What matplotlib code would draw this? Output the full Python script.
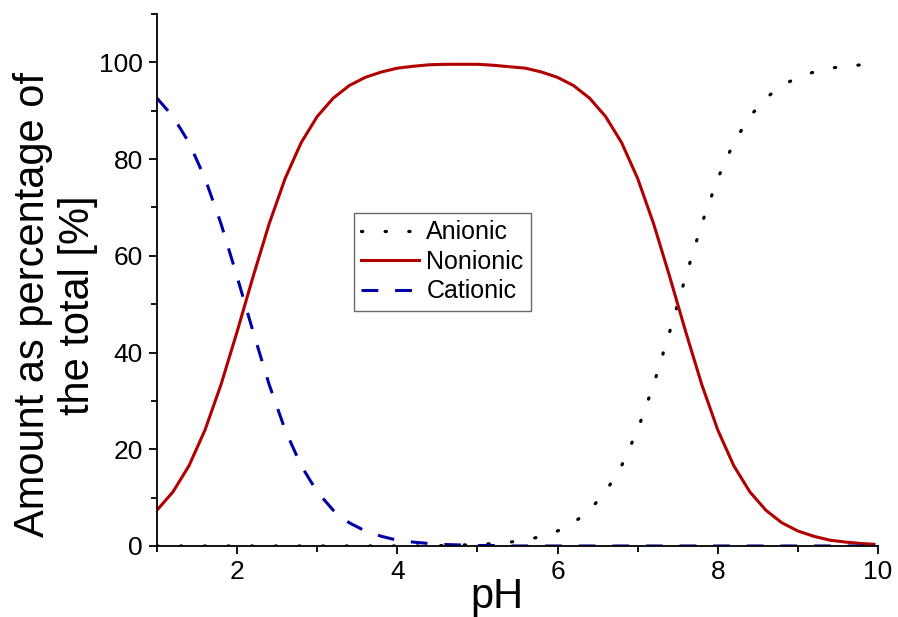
import matplotlib
matplotlib.use("Agg")
import matplotlib.pyplot as plt
from matplotlib.ticker import MultipleLocator

plt.rcParams['font.family'] = ['Liberation Sans', 'DejaVu Sans']

# species distribution, % of total vs pH
ph = [1.0, 1.2, 1.4, 1.6, 1.8, 2.0, 2.2, 2.4, 2.6, 2.8, 3.0, 3.2, 3.4, 3.6, 3.8,
      4.0, 4.2, 4.4, 4.6, 4.8, 5.0, 5.2, 5.4, 5.6, 5.8, 6.0, 6.2, 6.4, 6.6, 6.8,
      7.0, 7.2, 7.4, 7.6, 7.8, 8.0, 8.2, 8.4, 8.6, 8.8, 9.0, 9.2, 9.4, 9.6, 9.8, 9.95]
cationic = [92.6, 88.8, 83.4, 76.0, 66.6, 55.7, 44.3, 33.4, 24.0, 16.6, 11.2, 7.4, 4.8, 3.1, 2.0,
            1.2, 0.8, 0.5, 0.3, 0.2, 0.1, 0.1, 0.0, 0.0, 0.0, 0.0, 0.0, 0.0, 0.0, 0.0,
            0.0, 0.0, 0.0, 0.0, 0.0, 0.0, 0.0, 0.0, 0.0, 0.0, 0.0, 0.0, 0.0, 0.0, 0.0, 0.0]
nonionic = [7.4, 11.2, 16.6, 24.0, 33.4, 44.3, 55.7, 66.6, 76.0, 83.4, 88.8, 92.6, 95.2, 96.9, 98.0,
            98.8, 99.2, 99.5, 99.6, 99.6, 99.6, 99.4, 99.1, 98.8, 98.0, 96.9, 95.2, 92.6, 88.8, 83.4,
            76.0, 66.6, 55.7, 44.3, 33.4, 24.0, 16.6, 11.2, 7.4, 4.8, 3.1, 2.0, 1.2, 0.8, 0.5, 0.35]
anionic = [0.0, 0.0, 0.0, 0.0, 0.0, 0.0, 0.0, 0.0, 0.0, 0.0, 0.0, 0.0, 0.0, 0.0, 0.0,
           0.0, 0.0, 0.0, 0.1, 0.2, 0.3, 0.5, 0.8, 1.2, 2.0, 3.1, 4.8, 7.4, 11.2, 16.6,
           24.0, 33.4, 44.3, 55.7, 66.6, 76.0, 83.4, 88.8, 92.6, 95.2, 96.9, 98.0, 98.8, 99.2, 99.5, 99.65]

fig = plt.figure(figsize=(8.98, 6.17), dpi=100)
ax = fig.add_axes([0.1748, 0.1151, 0.8029, 0.8622])

ax.plot(ph, anionic, color='black', lw=2.3, linestyle=(0, (0.4, 7.0)),
        dash_capstyle='round', label='Anionic')
ax.plot(ph, nonionic, color='#b00000', lw=2.2, label='Nonionic')
ax.plot(ph, cationic, color='#0000a8', lw=2.2, linestyle=(0, (5.5, 5.5)),
        label='Cationic')

ax.set_xlim(1, 10)
ax.set_ylim(0, 110)
ax.xaxis.set_major_locator(MultipleLocator(2))
ax.xaxis.set_minor_locator(MultipleLocator(1))
ax.yaxis.set_major_locator(MultipleLocator(20))
ax.yaxis.set_minor_locator(MultipleLocator(10))
ax.set_xticks([2, 4, 6, 8, 10])

for s in ['top', 'right']:
    ax.spines[s].set_visible(False)
for s in ['left', 'bottom']:
    ax.spines[s].set_linewidth(1.3)

ax.tick_params(which='major', direction='out', length=6, width=1.3, labelsize=19, pad=4)
ax.tick_params(which='minor', direction='out', length=4, width=1.3)

ax.set_xlabel('pH', fontsize=30)
ax.xaxis.set_label_coords(0.471, -0.058)
ax.set_ylabel('Amount as percentage of\nthe total [%]', fontsize=30, linespacing=1.15)
ax.yaxis.set_label_coords(-0.082, 0.453)

leg = ax.legend(loc='upper left', bbox_to_anchor=(0.394, 0.655),
                bbox_transform=fig.transFigure, fontsize=18, frameon=True,
                fancybox=False, handlelength=2.3, handletextpad=0.3,
                borderpad=0.3, labelspacing=0.22, borderaxespad=0)
leg.get_frame().set_edgecolor('#444444')
leg.get_frame().set_linewidth(1.0)

fig.savefig('out.png', dpi=100)
